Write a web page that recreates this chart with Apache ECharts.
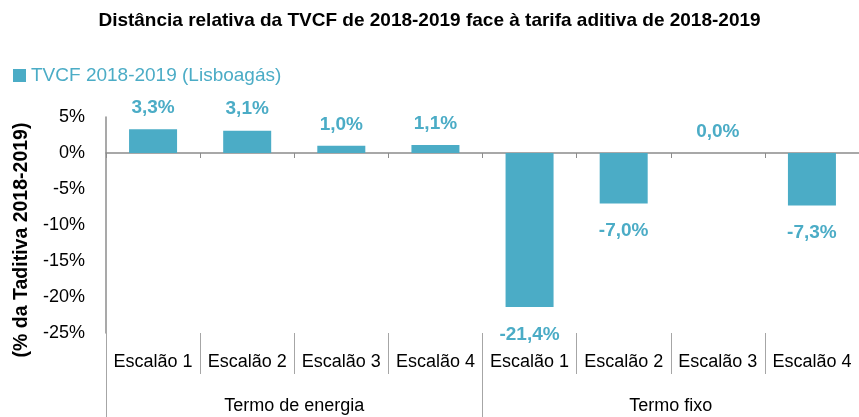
<!DOCTYPE html>
<html>
<head>
<meta charset="utf-8">
<script src="https://cdn.jsdelivr.net/npm/echarts@6/dist/echarts.min.js"></script>
<style>
    html, body { margin: 0; padding: 0; background: #fff; }
    #chart { width: 859px; height: 417px; }
</style>
</head>
<body>
<div id="chart"></div>
<script>
const escaloes = ['Escalão 1', 'Escalão 2', 'Escalão 3', 'Escalão 4', 'Escalão 1', 'Escalão 2', 'Escalão 3', 'Escalão 4']
const grupos = ['Termo de energia', 'Termo fixo']
const valores = [3.3, 3.1, 1.0, 1.1, -21.4, -7.0, 0.0, -7.3]
const serieNome = 'TVCF 2018-2019 (Lisboagás)'

const corBarra = '#4BACC6'
const fonte = '"Liberation Sans", Arial, sans-serif'

const chart = echarts.init(document.getElementById('chart'))

const formatPct = (v) => v.toFixed(1).replace('.', ',') + '%'

chart.setOption({
    animation: false,
    textStyle: { fontFamily: fonte },
    title: {
        text: 'Distância relativa da TVCF de 2018-2019 face à tarifa aditiva de 2018-2019',
        left: 'center',
        top: 6,
        textStyle: { fontSize: 19, fontWeight: 'bold', color: '#000', fontFamily: fonte },
    },
    legend: {
        left: 8,
        top: 61,
        icon: 'rect',
        itemWidth: 13,
        itemHeight: 13,
        itemGap: 6,
        textStyle: { color: corBarra, fontSize: 19, fontFamily: fonte },
        data: [serieNome],
    },
    grid: {
        left: 106,
        top: 117,
        width: 757,
        height: 216,
    },
    xAxis: [
        {
            type: 'category',
            data: escaloes,
            axisLine: { onZero: true, lineStyle: { color: '#8c8c8c', width: 1.5 } },
            axisTick: { show: true, length: 5, lineStyle: { color: '#8c8c8c' } },
            axisLabel: { show: false },
        },
        {
            type: 'category',
            data: escaloes,
            position: 'bottom',
            axisLine: { show: false, onZero: false },
            axisTick: { show: true, length: 41, lineStyle: { color: '#a6a6a6' } },
            axisLabel: { interval: 0, margin: 20, fontSize: 18, color: '#000' },
        },
        {
            type: 'category',
            data: grupos,
            position: 'bottom',
            axisLine: { show: false, onZero: false },
            axisTick: { show: true, length: 90, lineStyle: { color: '#a6a6a6' } },
            axisLabel: { interval: 0, margin: 64, fontSize: 18, color: '#000' },
        },
    ],
    yAxis: {
        type: 'value',
        min: -25,
        max: 5,
        interval: 5,
        name: '(% da Taditiva 2018-2019)',
        nameLocation: 'middle',
        nameGap: 73,
        nameTextStyle: { fontSize: 19.5, fontWeight: 'bold', color: '#000', padding: [0, 30, 0, 0] },
        axisLine: { show: true, lineStyle: { color: '#8c8c8c', width: 1.5 } },
        axisTick: { show: false },
        splitLine: { show: false },
        axisLabel: { fontSize: 18, color: '#000', margin: 21, formatter: (v) => v + '%' },
    },
    series: [
        {
            name: serieNome,
            type: 'bar',
            xAxisIndex: 0,
            barWidth: '51%',
            itemStyle: { color: corBarra },
            data: valores.map((v) => ({
                value: v,
                label: { position: v < 0 ? 'bottom' : 'top', distance: v < 0 ? 18 : 12 },
            })),
            label: {
                show: true,
                color: corBarra,
                fontSize: 19,
                fontWeight: 'bold',
                formatter: (p) => formatPct(p.value),
            },
        },
    ],
})
</script>
</body>
</html>
